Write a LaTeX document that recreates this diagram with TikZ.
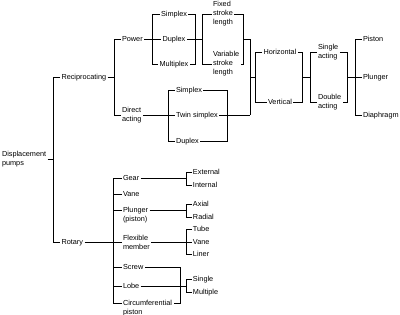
\documentclass[tikz,border=0pt]{standalone}
\usepackage{fontspec}
\setmainfont{Liberation Sans}
\begin{document}
\begin{tikzpicture}[x=1pt,y=-1pt, line width=0.8pt,
  lbl/.style={font=\fontsize{7.3}{9}\selectfont, inner sep=1.5pt, outer sep=0pt, anchor=west, text height=5.2pt, text depth=0pt},
  lbltwo/.style={font=\fontsize{7.3}{9}\selectfont, inner sep=1.5pt, outer sep=0pt, anchor=west, align=left}]
\useasboundingbox (0,0) rectangle (400,315);
% ---------- root ----------
\node[lbltwo] (disp) at (0.5,159) {Displacement\\pumps};
\coordinate (b1t) at (53,77);
\coordinate (b1b) at (53,242);
\node[lbl] (recip) at (60,77) {Reciprocating};
\node[lbl] (rotary) at (60,242) {Rotary};
\draw (recip.west) -- (b1t) -- (b1b) -- (rotary.west);
\draw (disp.east) -- (disp.east -| b1t);
% ---------- reciprocating ----------
\coordinate (b2t) at (114,39);
\coordinate (b2b) at (114,115);
\node[lbl] (power) at (120.5,39) {Power};
\node[lbltwo] (direct) at (120.5,115) {Direct\\acting};
\draw (recip.east) -- (recip.east -| b2t);
\draw (power.west) -- (b2t) -- (b2b) -- (direct.west);
% power
\node[lbl, anchor=center] (sx1) at (174,14) {Simplex};
\node[lbl, anchor=center] (dx1) at (174,39) {Duplex};
\node[lbl, anchor=center] (mx1) at (174,64) {Multiplex};
\coordinate (b3t) at (152,14);
\coordinate (b3b) at (152,64);
\draw (sx1.west) -- (b3t) -- (b3b) -- (mx1.west);
\draw (power.east) -- (dx1.west);
\coordinate (b4t) at (195,14);
\coordinate (b4b) at (195,64);
\draw (sx1.east) -- (b4t) -- (b4b) -- (mx1.east);
\coordinate (b5t) at (202,14);
\coordinate (b5b) at (202,64);
\node[lbltwo] (fix) at (211.5,14) {Fixed\\stroke\\length};
\node[lbltwo] (var) at (211.5,64) {Variable\\stroke\\length};
\draw (dx1.east) -- (dx1.east -| b5t);
\draw (fix.west) -- (b5t) -- (b5b) -- (var.west);
\coordinate (b6t) at (243,14);
\coordinate (b6b) at (243,64);
\coordinate (b6m) at (243,39);
\draw (fix.east) -- (b6t) -- (b6b) -- (var.east);
\coordinate (b7t) at (250,39);
\coordinate (b7b) at (250,115);
\coordinate (b7m) at (250,77);
\draw (b6m) -- (b7t) -- (b7b);
% direct acting
\coordinate (b13t) at (168,90);
\coordinate (b13b) at (168,141);
\node[lbl] (sx2) at (174.5,90) {Simplex};
\node[lbl] (twin) at (174.5,115) {Twin simplex};
\node[lbl] (dx2) at (174.5,141) {Duplex};
\draw (sx2.west) -- (b13t) -- (b13b) -- (dx2.west);
\draw (direct.east) -- (twin.west);
\coordinate (b14t) at (227,90);
\coordinate (b14b) at (227,141);
\draw (sx2.east) -- (b14t) -- (b14b) -- (dx2.east);
\draw (twin.east) -- (b7b);
% orientation
\coordinate (b8t) at (255,52);
\coordinate (b8b) at (255,102);
\node[lbl, anchor=center] (horiz) at (280,52) {Horizontal};
\node[lbl, anchor=center] (vert) at (280,102) {Vertical};
\draw (b7m) -- (b7m -| b8t);
\draw (horiz.west) -- (b8t) -- (b8b) -- (vert.west);
\coordinate (b9t) at (302,52);
\coordinate (b9b) at (302,102);
\coordinate (b9m) at (302,77);
\draw (horiz.east) -- (b9t) -- (b9b) -- (vert.east);
\coordinate (b10t) at (310,52);
\coordinate (b10b) at (310,102);
\node[lbltwo] (single) at (316.5,52) {Single\\acting};
\node[lbltwo] (double) at (316.5,102) {Double\\acting};
\draw (b9m) -- (b9m -| b10t);
\draw (single.west) -- (b10t) -- (b10b) -- (double.west);
\coordinate (b11t) at (347,52);
\coordinate (b11b) at (347,102);
\coordinate (b11m) at (347,77);
\draw (single.east) -- (b11t) -- (b11b) -- (double.east);
\coordinate (b12t) at (355,39);
\coordinate (b12b) at (355,115);
\node[lbl] (piston) at (361.5,39) {Piston};
\node[lbl] (plunger) at (361.5,77) {Plunger};
\node[lbl] (diaph) at (361.5,115) {Diaphragm};
\draw (piston.west) -- (b12t) -- (b12b) -- (diaph.west);
\draw (b11m) -- (plunger.west);
% ---------- rotary ----------
\coordinate (b15t) at (113,178);
\coordinate (b15b) at (113,303);
\node[lbl] (gear) at (121.5,178) {Gear};
\node[lbl] (vane) at (121.5,194) {Vane};
\node[lbltwo] (plpist) at (121.5,215.5) {Plunger\\(piston)};
\node[lbltwo] (flex) at (121.5,242) {Flexible\\member};
\node[lbl] (screw) at (121.5,267) {Screw};
\node[lbl] (lobe) at (121.5,286) {Lobe};
\node[lbltwo] (circ) at (121.5,308.5) {Circumferential\\piston};
\draw (gear.west) -- (b15t) -- (b15b) -- (b15b -| circ.west);
\coordinate (b15v) at (113,194);
\coordinate (b15p) at (113,210);
\coordinate (b15s) at (113,267);
\coordinate (b15l) at (113,286);
\draw (b15v) -- (vane.west);
\draw (b15p) -- (b15p -| plpist.west);
\draw (b15s) -- (screw.west);
\draw (b15l) -- (lobe.west);
\draw (rotary.east) -- (flex.west);
% gear
\coordinate (b17t) at (186,172);
\coordinate (b17b) at (186,185);
\node[lbl] (ext) at (191.5,172) {External};
\node[lbl] (int) at (191.5,185) {Internal};
\draw (gear.east) -- (gear.east -| b17t);
\draw (ext.west) -- (b17t) -- (b17b) -- (int.west);
% plunger
\coordinate (b16t) at (186,204);
\coordinate (b16b) at (186,217);
\node[lbl] (axial) at (191.5,204) {Axial};
\node[lbl] (radial) at (191.5,217) {Radial};
\draw (b15p -| plpist.east) -- (b15p -| b16t);
\draw (axial.west) -- (b16t) -- (b16b) -- (radial.west);
% flexible member
\coordinate (b18t) at (186,229);
\coordinate (b18b) at (186,254);
\node[lbl] (tube) at (191.5,229) {Tube};
\node[lbl] (vane2) at (191.5,242) {Vane};
\node[lbl] (liner) at (191.5,254) {Liner};
\draw (flex.east) -- (vane2.west);
\draw (tube.west) -- (b18t) -- (b18b) -- (liner.west);
% screw / lobe / circumferential
\coordinate (b19t) at (180,267);
\coordinate (b19b) at (180,303);
\draw (screw.east) -- (b19t) -- (b19b) -- (b19b -| circ.east);
\coordinate (b20t) at (186,279);
\coordinate (b20b) at (186,292);
\node[lbl] (single2) at (191.5,279) {Single};
\node[lbl] (multi) at (191.5,292) {Multiple};
\draw (lobe.east) -- (lobe.east -| b20t);
\draw (single2.west) -- (b20t) -- (b20b) -- (multi.west);
\end{tikzpicture}
\end{document}
